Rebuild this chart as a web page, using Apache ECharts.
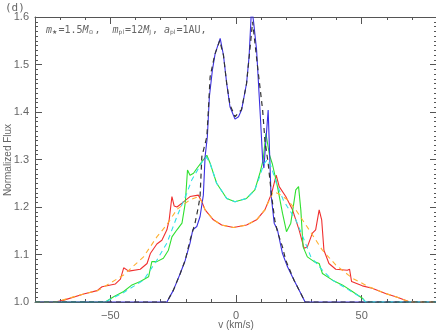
<!DOCTYPE html>
<html><head><meta charset="utf-8">
<script src="https://cdn.jsdelivr.net/npm/echarts@6/dist/echarts.min.js"></script>
<style>html,body{margin:0;padding:0;background:#fff}#c{width:436px;height:332px}</style>
</head><body><div id="c"></div>
<script>
// ---- data (velocity km/s, normalized flux) ----
const blueV  = [-80,-27.5,-24.9,-22.2,-20.2,-18.3,-17.2,-15.6,-14.3,-13,-12.3,-11.4,-10.6,-9.4,-8.3,-6.3,-5,-3.7,-2.4,-0.4,1,2.2,4.2,5.2,6.2,7,8.2,9.7,10.6,11.1,12.8,13.6,13.9,15.2,16.5,18.5,20.5,23.1,25.8,27.5,80];
const blueF  = [1,1,1.025,1.06,1.088,1.124,1.152,1.159,1.18,1.225,1.306,1.348,1.432,1.488,1.523,1.555,1.52,1.46,1.411,1.385,1.39,1.404,1.46,1.516,1.62,1.59,1.53,1.39,1.30,1.282,1.404,1.278,1.229,1.166,1.152,1.102,1.074,1.046,1.018,1,1];
const blackV = [-80,-27.5,-24.9,-22.2,-20.2,-18.3,-16.3,-15,-14.3,-13.6,-11.6,-11,-10.3,-8.5,-6.5,-5,-3.7,-2.4,-0.4,2.2,4.2,5.5,6.6,8.6,10.6,11.5,12.8,14.2,15.5,16.5,18.5,19.8,23.1,25.8,27.5,80];
const blackF = [1,1,1.025,1.06,1.088,1.13,1.166,1.2,1.222,1.306,1.348,1.404,1.474,1.52,1.55,1.52,1.46,1.415,1.39,1.405,1.46,1.53,1.59,1.495,1.404,1.341,1.292,1.222,1.17,1.148,1.116,1.088,1.046,1.018,1,1];
const greenV = [-80,-52,-48.7,-44.7,-41.4,-38.1,-34.8,-33.5,-31.5,-28.9,-26.9,-25.5,-23.5,-21.5,-20.2,-19.3,-18.3,-16.9,-15.6,-13.6,-11.6,-10.3,-7.7,-3.7,-0.4,4.2,7.5,9.5,10.8,11.9,13.3,14.5,16.5,18.5,20.1,21.8,23.8,24.9,25.8,26.7,28.4,31.1,33.1,34.4,38.4,42.3,46.3,50.3,51.6,80];
const greenF = [1,1,1.011,1.022,1.036,1.043,1.053,1.085,1.085,1.092,1.109,1.137,1.152,1.166,1.208,1.278,1.267,1.271,1.281,1.295,1.309,1.292,1.25,1.218,1.211,1.218,1.236,1.271,1.299,1.355,1.31,1.29,1.243,1.187,1.148,1.166,1.236,1.243,1.194,1.116,1.095,1.085,1.081,1.06,1.046,1.036,1.022,1.008,1,1];
const cyanV  = [-80,-52,-44.7,-36.8,-31.5,-27.5,-23.5,-19.6,-17.6,-15.6,-13,-11.8,-10.3,-7.7,-3.7,-0.4,4.2,7.5,9.5,11,12.5,14,16.1,18.8,20.5,23.8,27.1,29.8,34.4,38.4,45,50.3,51.6,80];
const cyanF  = [1,1,1.02,1.046,1.088,1.124,1.18,1.229,1.257,1.275,1.299,1.305,1.292,1.25,1.218,1.211,1.218,1.236,1.265,1.29,1.3,1.285,1.25,1.215,1.2,1.173,1.131,1.095,1.067,1.046,1.025,1.008,1,1];
const redV   = [-80,-71.8,-68.5,-60.6,-55.3,-53.3,-48,-46,-44.7,-42.7,-38.1,-35.4,-34.1,-31.5,-29.5,-27.5,-26.6,-25.5,-24.6,-23.5,-21.5,-18.3,-15,-13.6,-12.3,-9,-5.7,-1,4.2,8.2,11.5,14.2,16,17.2,19.8,22.5,25.1,27.1,28.4,30.4,31.7,33.1,34.1,35,37,39.7,44.3,45.2,46,50.3,54.2,59.5,64.2,69.2,80];
const redF   = [1,1,1.004,1.017,1.024,1.032,1.038,1.048,1.072,1.065,1.069,1.081,1.102,1.122,1.13,1.152,1.173,1.222,1.202,1.2,1.208,1.222,1.225,1.211,1.194,1.173,1.162,1.157,1.162,1.173,1.194,1.229,1.267,1.243,1.222,1.194,1.152,1.113,1.116,1.145,1.152,1.194,1.173,1.109,1.081,1.069,1.067,1.069,1.043,1.034,1.029,1.018,1.01,1,1];
const orangeV= [-80,-71.8,-60.6,-55,-44.7,-36.8,-31.5,-27.5,-23.5,-21,-18.3,-15,-13.6,-12.3,-9,-5.7,-1,4.2,8.2,11.5,14.8,17,20.5,23.8,29.1,34.4,39.7,46.3,52.9,59.5,64.2,69.2,80];
const orangeF= [1,1,1.017,1.024,1.057,1.095,1.137,1.163,1.195,1.205,1.215,1.222,1.211,1.194,1.173,1.162,1.157,1.162,1.173,1.194,1.232,1.228,1.215,1.194,1.152,1.109,1.078,1.05,1.032,1.018,1.01,1,1];
const xMajorTicks = [-50, 0, 50];
const xTitle = 'v (km/s)';
const yTitle = 'Normalized Flux';

const pairs = (v, f) => v.map((x, i) => [x, f[i]]);
const axisCol = '#555', txtCol = '#666';
const font = 'Liberation Sans';
const mono = 'DejaVu Sans Mono';

function xAx(pos, major, labels) {
  return {
    type: 'value', position: pos, min: -80, max: 80, interval: 10,
    axisLine: { show: !major, onZero: false, lineStyle: { color: axisCol, width: 1 } },
    splitLine: { show: false },
    axisTick: major ? { inside: true, length: 7, customValues: xMajorTicks, lineStyle: { color: axisCol } }
                    : { inside: true, length: 3, lineStyle: { color: axisCol } },
    axisLabel: labels ? { show: true, customValues: xMajorTicks, color: txtCol, fontSize: 11, fontFamily: font, margin: 8,
                          formatter: v => (v < 0 ? '\u2212' + Math.abs(v) : String(v)) } : { show: false }
  };
}
function yAx(pos, labels) {
  return {
    type: 'value', position: pos, min: 1.0, max: 1.6, interval: 0.1,
    axisLine: { show: true, onZero: false, lineStyle: { color: axisCol, width: 1 } },
    splitLine: { show: false },
    axisTick: { inside: true, length: 7, lineStyle: { color: axisCol } },
    minorTick: { show: true, splitNumber: 10, length: 3, lineStyle: { color: axisCol } },
    axisLabel: labels ? { color: txtCol, fontSize: 11, fontFamily: font, margin: 6, formatter: v => v.toFixed(1) } : { show: false }
  };
}
function ser(v, f, color, dashed, w) {
  return {
    type: 'line', data: pairs(v, f), xAxisIndex: 0, yAxisIndex: 0,
    showSymbol: false, symbol: 'none', smooth: false, clip: true, animation: false,
    lineStyle: { color: color, width: w || 1.1, type: dashed ? [5, 4] : 'solid' }
  };
}

const chart = echarts.init(document.getElementById('c'), null, { renderer: 'canvas' });
chart.setOption({
  backgroundColor: '#fff',
  animation: false,
  grid: { left: 35, top: 17, width: 402, height: 285, containLabel: false, outerBoundsMode: 'none' },
  xAxis: [xAx('bottom', false, true), xAx('bottom', true, false), xAx('top', false, false), xAx('top', true, false)],
  yAxis: [yAx('left', true), yAx('right', false)],
  series: [
    ser(redV, redF, '#f03030'),
    ser(greenV, greenF, '#30e030'),
    ser(blueV, blueF, '#3a2ee0'),
    ser(orangeV, orangeF, '#ffb030', true),
    ser(cyanV, cyanF, '#30e0e8', true),
    ser(blackV, blackF, '#333333', true, 1.2)
  ],
  graphic: [
    { type: 'text', left: 5, top: 3, style: { text: '(d)', fill: txtCol, font: '11px "DejaVu Sans Mono"' } },
    { type: 'text', x: 236, y: 325, style: { text: xTitle, fill: txtCol, font: '10px "Liberation Sans"', align: 'center', verticalAlign: 'middle' } },
    { type: 'text', x: 8, y: 160, rotation: Math.PI / 2, style: { text: yTitle, fill: txtCol, font: '10px "Liberation Sans"', align: 'center', verticalAlign: 'middle' } },
    { type: 'text', left: 46, top: 25, style: {
        text: '{i|m}{s|\u2605}{n|=1.5}{i|M}{s|\u2299}{n|,  }{i|m}{s|pl}{n|=12}{i|M}{s|J}{n|, }{i|a}{s|pl}{n|=1AU,}',
        rich: {
          i: { fontStyle: 'italic', fontSize: 10, fontFamily: mono, fill: txtCol, color: txtCol },
          n: { fontSize: 10, fontFamily: mono, fill: txtCol, color: txtCol },
          s: { fontSize: 6, fontFamily: 'DejaVu Sans', fill: txtCol, color: txtCol, verticalAlign: 'bottom', padding: [5, 1, 0, 0] }
        }
      } }
  ]
});
</script></body></html>
